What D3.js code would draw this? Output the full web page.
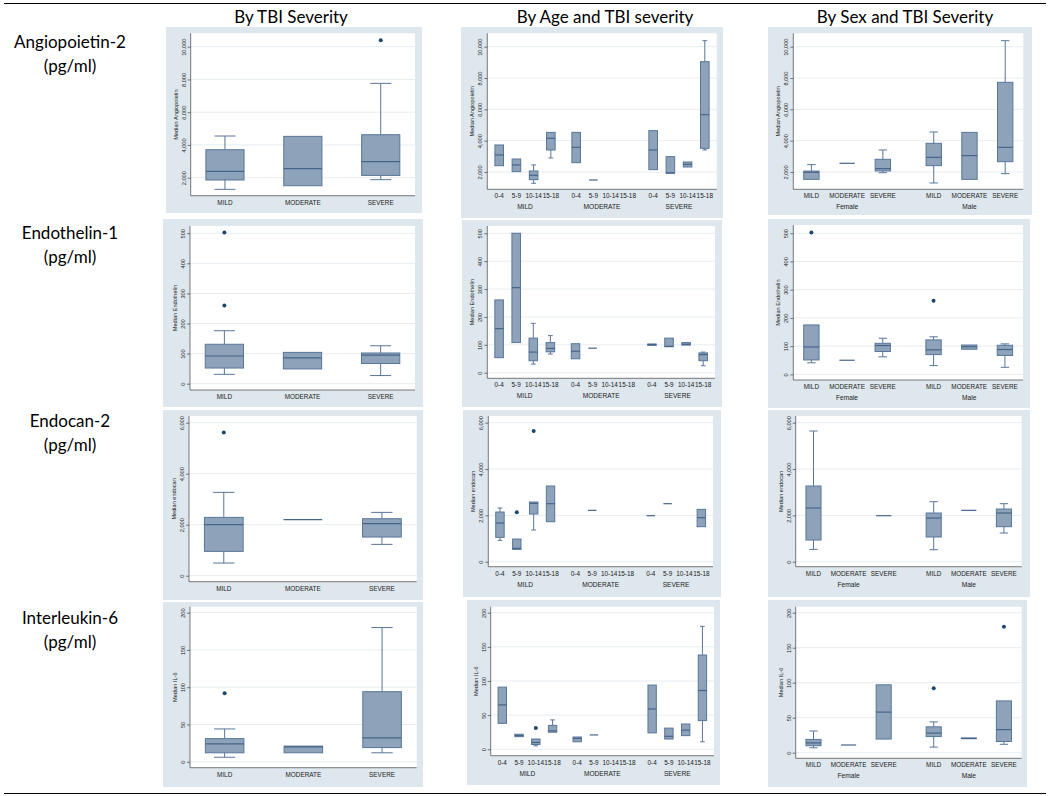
<!DOCTYPE html>
<html><head><meta charset="utf-8">
<script src="https://cdn.jsdelivr.net/npm/d3@7"></script>
<style>body{margin:0;background:#fff}svg{display:block}</style>
</head><body>
<svg id="chart" width="1050" height="796"></svg>
<script>
// ---------------- DATA ----------------
const severities = ["MILD","MODERATE","SEVERE"];
const ageGroups = ["0-4","5-9","10-14","15-18"];
const sexes = ["Female","Male"];
const columnTitles = ["By TBI Severity","By Age and TBI severity","By Sex and TBI Severity"];
const markerNames = ["Angiopoietin-2","Endothelin-1","Endocan-2","Interleukin-6"];
const markerUnit = "(pg/ml)";
const yTitles = ["Median Angiopoietin","Median Endothelin","Median endocan","Median IL-6"];
const ticksAng = [2000,4000,6000,8000,10000];
const ticksEnd = [0,100,200,300,400,500];
const ticksEnc = [0,2000,4000,6000];
const ticksIL6 = [0,50,100,150,200];

// box stats: [lower whisker, q1, median, q3, upper whisker]; null = no data
// age panels: MILD(0-4,5-9,10-14,15-18), MODERATE(...), SEVERE(...)
// sex panels: Female(MILD,MODERATE,SEVERE), Male(MILD,MODERATE,SEVERE)
const angSev = [[1290,1860,2390,3710,4545],[1510,1510,2550,4525,4525],[1880,2140,2980,4625,7760]];
const angSevOut = [[],[],[10400]];
const angAge = [[2400,2400,3085,3725,3725],[2020,2020,2450,2830,2830],[1280,1510,1790,2065,2450],[2895,3405,4150,4530,4530],
  [2595,2595,3575,4530,4530],[1490,1490,1490,1490,1490],null,null,
  [2150,2150,3405,4640,4640],[1915,1915,1950,2980,2980],[2320,2320,2490,2640,2640],[3405,3510,5660,9045,10385]];
const angAgeOut = [[],[],[],[],[],[],[],[],[],[],[],[]];
const angSex = [[1530,1530,1980,2060,2470],[2555,2555,2555,2555,2555],[1955,2065,2215,2810,3405],
  [1300,2405,2935,3830,4555],[1530,1530,3045,4530,4530],[1895,2660,3575,7725,10385]];
const angSexOut = [[],[],[],[],[],[]];

const endSev = [[31,52,92,131,176],[49,49,86,104,104],[27,67,95,102,126]];
const endSevOut = [[260,502],[],[]];
const endAge = [[54,54,158,261,261],[108,108,305,500,500],[31,43,74,124,177],[67,75,87,108,133],
  [50,50,77,104,104],[88,88,88,88,88],null,null,
  [98,98,101,103,103],[93,93,95,124,124],[99,99,102,108,108],[25,43,65,71,74]];
const endAgeOut = [[],[],[],[],[],[],[],[],[],[],[],[]];
const endSex = [[41,51,97,175,175],[50,50,50,50,50],[62,81,102,110,128],
  [31,70,87,122,133],[89,89,98,104,104],[25,67,88,103,108]];
const endSexOut = [[502],[],[],[261],[],[]];

const encSev = [[497,954,2000,2287,3268],[2196,2196,2196,2196,2196],[1229,1516,2039,2235,2483]];
const encSevOut = [[5620],[],[]];
const encAge = [[921,1050,1669,2144,2317],[532,532,575,978,978],[1367,2058,2518,2576,2576],[1727,1727,2504,3267,3267],
  null,[2216,2216,2216,2216,2216],null,null,
  [1986,1986,1986,1986,1986],[2504,2504,2504,2504,2504],null,[1511,1511,1899,2259,2259]];
const encAgeOut = [[],[2130],[5641],[],[],[],[],[],[],[],[],[]];
const encSex = [[532,935,2317,3267,5641],null,[1986,1986,1986,1986,1986],
  [518,1065,1885,2101,2590],[2216,2216,2216,2216,2216],[1238,1511,2101,2274,2504]];
const encSexOut = [[],[],[],[],[],[]];

const il6Sev = [[6,12,24,31,44],[12,12,20,21,21],[12,19,32,94,180]];
const il6SevOut = [[92],[],[]];
const il6Age = [[38,38,65,91,91],[18.5,18.5,20,22,22],[5,7,10,15,15],[25,25,27,35,43],
  [11,11,16,18,18],[21,21,21,21,21],null,null,
  [24,24,59,94,94],[15,15,19,31,31],[20,20,28,37,37],[11,42,86,138,180]];
const il6AgeOut = [[],[],[31],[],[],[],[],[],[],[],[],[]];
const il6Sex = [[7,10,14,19,31],[11,11,11,11,11],[19.5,19.5,58,97,97],
  [8,23,28,37,44],[20,20,20.5,21,21],[12,16,33,74,74]];
const il6SexOut = [[],[],[],[92],[],[180]];

// ---------------- LAYOUT ----------------
const rows = [
  {name:markerNames[0], title:yTitles[0], ticks:ticksAng, labelY:[42,66],
   sets:[[angSev,angSevOut],[angAge,angAgeOut],[angSex,angSexOut]],
   panels:[
    {outer:[166,27,422,213], plot:[190.7,33.3,415,195.7], dom:[901,10818]},
    {outer:[461,27,723,218], plot:[487.3,33.3,716.7,189.3], dom:[895,10856]},
    {outer:[768,27,1032,215], plot:[793.3,33.3,1023.3,189.3], dom:[895,10856]}]},
  {name:markerNames[1], title:yTitles[1], ticks:ticksEnd, labelY:[233,257],
   sets:[[endSev,endSevOut],[endAge,endAgeOut],[endSex,endSexOut]],
   panels:[
    {outer:[163,219,423,407], plot:[190,226,415,390], dom:[-21,524]},
    {outer:[462,220,722,407], plot:[487.3,226,715,378.3], dom:[-20,526]},
    {outer:[768,219,1030,408], plot:[793.3,225,1023,380], dom:[-20,529]}]},
  {name:markerNames[2], title:yTitles[2], ticks:ticksEnc, labelY:[421,445],
   sets:[[encSev,encSevOut],[encAge,encAgeOut],[encSex,encSexOut]],
   panels:[
    {outer:[163,410,423,600], plot:[189,416,416.7,581.7], dom:[-235,6263]},
    {outer:[463,410,721,597], plot:[488.3,416,713,566.7], dom:[-216,6289]},
    {outer:[768,410,1030,597], plot:[795.7,416,1021.7,566.7], dom:[-216,6289]}]},
  {name:markerNames[3], title:yTitles[3], ticks:ticksIL6, labelY:[618,642],
   sets:[[il6Sev,il6SevOut],[il6Age,il6AgeOut],[il6Sex,il6SexOut]],
   panels:[
    {outer:[163,602,423,787], plot:[190,606.7,416.7,767.7], dom:[-8,208]},
    {outer:[467,600,720,785], plot:[490.7,606.7,714,755.7], dom:[-9.4,208.8]},
    {outer:[768,600,1027,787], plot:[795.7,606.7,1021.7,758.3], dom:[-8,208.6]}]}
];
const colTitleX = [291,605,905];

const C = {bg:"#dde7ed", grid:"#e6edf1", fill:"#8ea3b9", stroke:"#58769a", med:"#46648a", out:"#1a476f", axis:"#444"};
const smallFont = "'Liberation Sans', Arial, sans-serif";
const bigFont = "Lato, 'Open Sans', sans-serif";

const svg = d3.select("#chart");
svg.append("line").attr("x1",4).attr("x2",1046).attr("y1",3.5).attr("y2",3.5).attr("stroke","#000").attr("stroke-width",1);
svg.append("line").attr("x1",4).attr("x2",1046).attr("y1",793.5).attr("y2",793.5).attr("stroke","#000").attr("stroke-width",1);

columnTitles.forEach((t,i)=>{
  svg.append("text").attr("x",colTitleX[i]).attr("y",23).attr("text-anchor","middle")
    .style("font-family",bigFont).style("font-size","17px").attr("fill","#000").text(t);
});

rows.forEach(row=>{
  svg.append("text").attr("x",70).attr("y",row.labelY[0]+6).attr("text-anchor","middle")
    .style("font-family",bigFont).style("font-size","17px").text(row.name);
  svg.append("text").attr("x",70).attr("y",row.labelY[1]+6).attr("text-anchor","middle")
    .style("font-family",bigFont).style("font-size","17px").text(markerUnit);
  row.panels.forEach((p,ci)=>{
    drawPanel(p, ci, row.sets[ci][0], row.sets[ci][1], row.ticks, row.title);
  });
});

function drawPanel(p, type, stats, outs, ticks, title){
  const g = svg.append("g");
  const [ox0,oy0,ox1,oy1] = p.outer, [px0,py0,px1,py1] = p.plot;
  g.append("rect").attr("x",ox0).attr("y",oy0).attr("width",ox1-ox0).attr("height",oy1-oy0).attr("fill",C.bg);
  g.append("rect").attr("x",px0).attr("y",py0).attr("width",px1-px0).attr("height",py1-py0).attr("fill","#fff");
  const y = d3.scaleLinear().domain(p.dom).range([py1,py0]);
  // grid
  g.selectAll(".grid").data(ticks).join("line")
    .attr("x1",px0).attr("x2",px1).attr("y1",d=>y(d)).attr("y2",d=>y(d))
    .attr("stroke",C.grid).attr("stroke-width",1);
  // y axis
  const ax = g.append("g").attr("transform",`translate(${px0},0)`)
    .call(d3.axisLeft(y).tickValues(ticks).tickSize(3).tickSizeOuter(0).tickFormat(d3.format(",")));
  ax.select(".domain").attr("stroke",C.axis).attr("stroke-width",0.7).attr("d",`M0,${py0}V${py1}`);
  ax.selectAll(".tick line").attr("stroke",C.axis).attr("stroke-width",0.7);
  ax.selectAll(".tick text").attr("transform","rotate(-90)").attr("x",0).attr("y",-5).attr("dy",0)
    .attr("text-anchor","middle").style("font-family",smallFont).style("font-size","5.6px").attr("fill","#222");
  g.append("text").attr("transform",`translate(${px0-13},${(py0+py1)/2}) rotate(-90)`)
    .attr("text-anchor","middle").style("font-family",smallFont).style("font-size","5.6px").attr("fill","#222").text(title);
  // x axis line
  g.append("line").attr("x1",px0).attr("x2",px1).attr("y1",py1).attr("y2",py1).attr("stroke",C.axis).attr("stroke-width",0.7);

  // positions
  let items = [], groupLabels = [], boxW;
  if (type===0){
    const x = d3.scalePoint().domain(severities).range([px0,px1]).padding(0.44);
    boxW = x.step()*0.49;
    severities.forEach((s,i)=>items.push({cx:x(s), label:s, s:stats[i], o:outs[i]}));
  } else if (type===1){
    const xo = d3.scalePoint().domain(severities).range([px0,px1]).padding(0.49);
    const st = xo.step()*0.2236;
    const xi = d3.scalePoint().domain(ageGroups).range([-1.5*st,1.5*st]);
    boxW = st*0.5;
    severities.forEach((s,gi)=>{
      groupLabels.push({x:xo(s), label:s});
      ageGroups.forEach((a,ai)=>{const k=gi*4+ai; items.push({cx:xo(s)+xi(a), label:a, s:stats[k], o:outs[k]});});
    });
  } else {
    const xo = d3.scalePoint().domain(sexes).range([px0,px1]).padding(0.44);
    const st = xo.step()*0.292;
    const xi = d3.scalePoint().domain(severities).range([-st,st]);
    boxW = st*0.43;
    sexes.forEach((s,gi)=>{
      groupLabels.push({x:xo(s), label:s});
      severities.forEach((v,vi)=>{const k=gi*3+vi; items.push({cx:xo(s)+xi(v), label:v, s:stats[k], o:outs[k]});});
    });
  }
  // category labels
  g.selectAll(".cat").data(items).join("text")
    .attr("x",d=>d.cx).attr("y",py1+9).attr("text-anchor","middle")
    .style("font-family",smallFont).style("font-size","6.4px").attr("fill","#222").text(d=>d.label);
  g.selectAll(".grp").data(groupLabels).join("text")
    .attr("x",d=>d.x).attr("y",py1+20).attr("text-anchor","middle")
    .style("font-family",smallFont).style("font-size","6.6px").attr("fill","#222").text(d=>d.label);
  // boxes
  const capW = boxW*0.55;
  items.forEach(it=>{
    const s = it.s;
    if (s){
      const bx = g.append("g");
      if (s[0]<s[1]) {
        bx.append("line").attr("x1",it.cx).attr("x2",it.cx).attr("y1",y(s[0])).attr("y2",y(s[1])).attr("stroke",C.stroke).attr("stroke-width",1);
        bx.append("line").attr("x1",it.cx-capW/2).attr("x2",it.cx+capW/2).attr("y1",y(s[0])).attr("y2",y(s[0])).attr("stroke",C.stroke).attr("stroke-width",1);
      }
      if (s[4]>s[3]) {
        bx.append("line").attr("x1",it.cx).attr("x2",it.cx).attr("y1",y(s[4])).attr("y2",y(s[3])).attr("stroke",C.stroke).attr("stroke-width",1);
        bx.append("line").attr("x1",it.cx-capW/2).attr("x2",it.cx+capW/2).attr("y1",y(s[4])).attr("y2",y(s[4])).attr("stroke",C.stroke).attr("stroke-width",1);
      }
      bx.append("rect").attr("x",it.cx-boxW/2).attr("width",boxW)
        .attr("y",y(s[3])).attr("height",Math.max(0,y(s[1])-y(s[3])))
        .attr("fill",C.fill).attr("stroke",C.stroke).attr("stroke-width",1);
      bx.append("line").attr("x1",it.cx-boxW/2).attr("x2",it.cx+boxW/2).attr("y1",y(s[2])).attr("y2",y(s[2]))
        .attr("stroke",C.med).attr("stroke-width",1.2);
    }
    (it.o||[]).forEach(v=>{
      g.append("circle").attr("cx",it.cx).attr("cy",y(v)).attr("r",2).attr("fill",C.out);
    });
  });
}
</script>
</body></html>
